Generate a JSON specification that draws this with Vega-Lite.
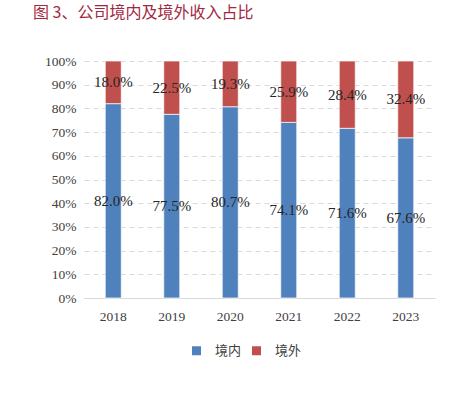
{
  "$schema": "https://vega.github.io/schema/vega-lite/v6.json",
  "width": 351,
  "height": 237,
  "autosize": "none",
  "padding": {"left": 84, "top": 61, "right": 34, "bottom": 100},
  "background": "white",
  "config": {"view": {"stroke": null}},
  "title": {
    "text": "图 3、公司境内及境外收入占比",
    "anchor": "start",
    "frame": "group",
    "dx": -51,
    "offset": 33,
    "font": "Noto Sans CJK SC",
    "fontSize": 16,
    "fontWeight": "normal",
    "color": "#A3283F"
  },
  "data": {
    "values": [
      {"year": "2018", "region": "境内", "share": 0.820},
      {"year": "2018", "region": "境外", "share": 0.180},
      {"year": "2019", "region": "境内", "share": 0.775},
      {"year": "2019", "region": "境外", "share": 0.225},
      {"year": "2020", "region": "境内", "share": 0.807},
      {"year": "2020", "region": "境外", "share": 0.193},
      {"year": "2021", "region": "境内", "share": 0.741},
      {"year": "2021", "region": "境外", "share": 0.259},
      {"year": "2022", "region": "境内", "share": 0.716},
      {"year": "2022", "region": "境外", "share": 0.284},
      {"year": "2023", "region": "境内", "share": 0.676},
      {"year": "2023", "region": "境外", "share": 0.324}
    ]
  },
  "transform": [
    {"stack": "share", "groupby": ["year"], "sort": [{"field": "region", "order": "ascending"}], "as": ["y0", "y1"]},
    {"calculate": "(datum.y0 + datum.y1) / 2", "as": "ymid"}
  ],
  "encoding": {
    "x": {
      "field": "year",
      "type": "nominal",
      "sort": null,
      "scale": {"paddingInner": 0, "paddingOuter": 0},
      "axis": {
        "title": null,
        "labelAngle": 0,
        "ticks": false,
        "domainColor": "#D9D9D9",
        "labelFont": "Liberation Serif",
        "labelFontSize": 13.5,
        "labelColor": "#404040",
        "labelPadding": 11
      }
    }
  },
  "layer": [
    {
      "mark": {"type": "bar", "size": 16, "stroke": "white", "strokeWidth": 0.7},
      "encoding": {
        "y": {
          "field": "y0",
          "type": "quantitative",
          "scale": {"domain": [0, 1], "nice": false},
          "axis": {
            "title": null,
            "values": [0, 0.1, 0.2, 0.3, 0.4, 0.5, 0.6, 0.7, 0.8, 0.9, 1],
            "format": ".0%",
            "labelOverlap": false,
            "domain": false,
            "ticks": false,
            "grid": true,
            "gridColor": "#D9D9D9",
            "gridDash": [5, 4],
            "labelFont": "Liberation Serif",
            "labelFontSize": 13.5,
            "labelColor": "#404040",
            "labelPadding": 8
          }
        },
        "y2": {"field": "y1"},
        "color": {
          "field": "region",
          "type": "nominal",
          "scale": {"domain": ["境内", "境外"], "range": ["#4F81BD", "#C0504D"]},
          "legend": {
            "title": null,
            "orient": "none",
            "direction": "horizontal",
            "legendX": 106,
            "legendY": 283,
            "padding": 0,
            "symbolType": "square",
            "symbolSize": 81,
            "symbolStrokeWidth": 0,
            "labelFont": "Noto Sans CJK SC",
            "labelFontSize": 13,
            "labelColor": "#404040",
            "labelOffset": 12,
            "columnPadding": 8
          }
        }
      }
    },
    {
      "mark": {"type": "text", "font": "Liberation Serif", "fontSize": 15, "color": "#262626"},
      "encoding": {
        "y": {
          "field": "ymid",
          "type": "quantitative",
          "scale": {"domain": [0, 1], "nice": false},
          "axis": {
            "title": null,
            "values": [0, 0.1, 0.2, 0.3, 0.4, 0.5, 0.6, 0.7, 0.8, 0.9, 1],
            "format": ".0%",
            "labelOverlap": false,
            "domain": false,
            "ticks": false,
            "grid": true,
            "gridColor": "#D9D9D9",
            "gridDash": [5, 4],
            "labelFont": "Liberation Serif",
            "labelFontSize": 13.5,
            "labelColor": "#404040",
            "labelPadding": 8
          }
        },
        "text": {"field": "share", "type": "quantitative", "format": ".1%"}
      }
    }
  ]
}
